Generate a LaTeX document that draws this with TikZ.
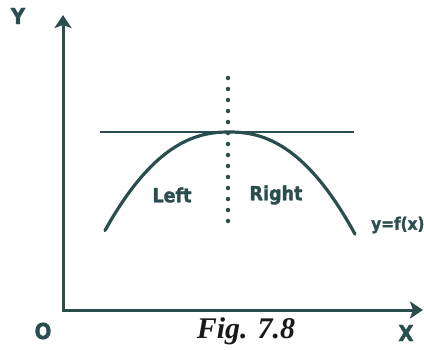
\documentclass[tikz,border=0pt]{standalone}
\usepackage{fontspec}
\usetikzlibrary{arrows.meta}
\newfontfamily\lblfont{DejaVu Sans Condensed Bold}[FakeBold=1.6]
\newfontfamily\figfont{Liberation Serif}
\definecolor{inkcol}{RGB}{42,78,78}
\tikzset{
  axis/.style={inkcol,line width=3pt,-{Stealth[length=13pt,width=17pt,inset=3pt]}},
  lbl/.style={inkcol,font=\lblfont\fontsize{19.5}{21}\selectfont},
  axlbl/.style={inkcol,font=\lblfont\fontsize{22}{24}\selectfont}
}
\begin{document}
\begin{tikzpicture}[x=1pt,y=-1pt]
\useasboundingbox (0,0) rectangle (424,349);
\coordinate (O) at (63,310);
\coordinate (ytip) at (63,15);
\coordinate (xtip) at (423,310);
\coordinate (peak) at (229,132);
\draw[axis,line cap=rect] (O) -- (ytip);
\draw[axis] (O) -- (xtip);
\draw[inkcol,line width=2.5pt] (100,132) -- (354,132);
\draw[inkcol,line width=4.5pt,line cap=round,dash pattern=on 0pt off 11pt] (228,78) -- (228,232);
\draw[inkcol,line width=3.2pt,line cap=round] plot[domain=-124:126,samples=80,smooth]
  ({229+\x},{132+60.6*(abs(\x)/100)^2.26});
\node[axlbl] (ylbl) at (18,16) {Y};
\node[axlbl] (olbl) at (43,331) {O};
\node[axlbl] (xlbl) at (406,333) {X};
\node[lbl] (left) at (172,195) {Left};
\node[lbl] (right) at (276,195) {Right};
\node[inkcol,anchor=west,inner sep=0pt,font=\lblfont\fontsize{17}{19}\selectfont] (fx) at (371,225) {y=f(x)};
\node[font=\figfont\bfseries\itshape\fontsize{30}{32}\selectfont,text=black!90] (cap) at (246,331) {Fig. 7.8};
\end{tikzpicture}
\end{document}
